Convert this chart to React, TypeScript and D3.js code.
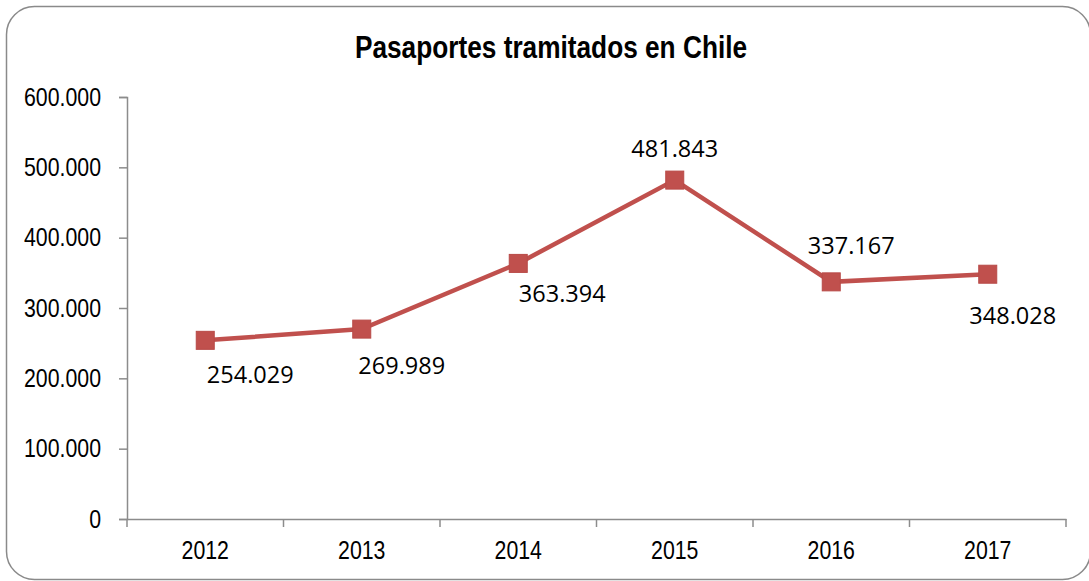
import { useRef, useEffect } from 'react';
import * as d3 from 'd3';

const years = ['2012', '2013', '2014', '2015', '2016', '2017'];
const passports = [254029, 269989, 363394, 481843, 337167, 348028];
const yTicks = [0, 100000, 200000, 300000, 400000, 500000, 600000];
// label offsets relative to each marker (dx, dy)
const labelOffsets: [number, number][] = [
  [45, 43],
  [40, 45],
  [44, 39],
  [0, -23],
  [20, -28],
  [25, 50],
];

const W = 1089;
const H = 581;
const sans = '"Liberation Sans", Arial, sans-serif';
const squeeze = 0.82; // imitate Arial Narrow

export default function App() {
  const svgRef = useRef<SVGSVGElement>(null);

  useEffect(() => {
    if (!svgRef.current) return;
    const svg = d3.select(svgRef.current);
    svg.selectAll('*').remove();

    const left = 127;
    const right = 1066;
    const top = 97;
    const bottom = 519;

    const x = d3.scaleBand().domain(years).range([left, right]);
    const y = d3.scaleLinear().domain([0, 600000]).range([bottom, top]);
    const fmt = (v: number) => d3.format(',')(v).replace(/,/g, '.');

    // frame
    svg
      .append('rect')
      .attr('x', 6.5)
      .attr('y', 6.5)
      .attr('width', 1084)
      .attr('height', 573)
      .attr('rx', 28)
      .attr('fill', 'white')
      .attr('stroke', '#8a8a8a')
      .attr('stroke-width', 1.5);

    svg
      .append('text')
      .attr('transform', `translate(551,58) scale(${squeeze},1)`)
      .attr('text-anchor', 'middle')
      .attr('font-family', sans)
      .attr('font-weight', 'bold')
      .attr('font-size', 32)
      .attr('fill', '#000')
      .text('Pasaportes tramitados en Chile');

    const axisColor = '#8c8c8c';

    // y axis
    const yAxis = svg
      .append('g')
      .attr('transform', `translate(${left},0)`)
      .call(
        d3
          .axisLeft(y)
          .tickValues(yTicks)
          .tickSize(8)
          .tickPadding(18)
          .tickFormat((d) => fmt(d as number))
      );
    yAxis.select('.domain').attr('stroke', axisColor).attr('stroke-width', 1.5);
    yAxis.selectAll('.tick line').attr('stroke', axisColor).attr('stroke-width', 1.5);
    yAxis
      .selectAll('.tick text')
      .attr('x', -26 / squeeze)
      .attr('transform', `scale(${squeeze},1)`)
      .attr('font-family', sans)
      .attr('font-size', 26)
      .attr('fill', '#000');

    // x axis
    const xAxis = svg
      .append('g')
      .attr('transform', `translate(0,${bottom})`)
      .call(d3.axisBottom(x).tickSize(0).tickPadding(22));
    xAxis.select('.domain').attr('stroke', axisColor).attr('stroke-width', 1.5);
    xAxis
      .selectAll('.tick text')
      .attr('transform', `scale(${squeeze},1)`)
      .attr('font-family', sans)
      .attr('font-size', 26)
      .attr('fill', '#000');
    // boundary ticks
    const bounds = years.map((d) => x(d) as number).concat([right]);
    xAxis
      .selectAll('.bound')
      .data(bounds)
      .enter()
      .append('line')
      .attr('x1', (d) => d)
      .attr('x2', (d) => d)
      .attr('y1', 0)
      .attr('y2', 8)
      .attr('stroke', axisColor)
      .attr('stroke-width', 1.5);

    const cx = (i: number) => (x(years[i]) as number) + x.bandwidth() / 2;

    const line = d3
      .line<number>()
      .x((_, i) => cx(i))
      .y((d) => y(d));

    svg
      .append('path')
      .datum(passports)
      .attr('d', line)
      .attr('fill', 'none')
      .attr('stroke', '#C0504D')
      .attr('stroke-width', 4.5);

    const s = 18;
    svg
      .selectAll('.marker')
      .data(passports)
      .enter()
      .append('rect')
      .attr('x', (_, i) => cx(i) - s / 2)
      .attr('y', (d) => y(d) - s / 2)
      .attr('width', s)
      .attr('height', s)
      .attr('fill', '#C0504D')
      .attr('stroke', '#B84A47')
      .attr('stroke-width', 1);

    svg
      .selectAll('.lbl')
      .data(passports)
      .enter()
      .append('text')
      .attr('x', (_, i) => cx(i) + labelOffsets[i][0])
      .attr('y', (d, i) => y(d) + labelOffsets[i][1])
      .attr('text-anchor', 'middle')
      .attr('font-family', '"Open Sans", "Noto Sans", sans-serif')
      .attr('font-size', 23.5)
      .attr('fill', '#000')
      .text((d) => fmt(d));
  }, []);

  return <svg ref={svgRef} width={W} height={H} style={{ position: 'absolute', left: 0, top: 0 }} />;
}
